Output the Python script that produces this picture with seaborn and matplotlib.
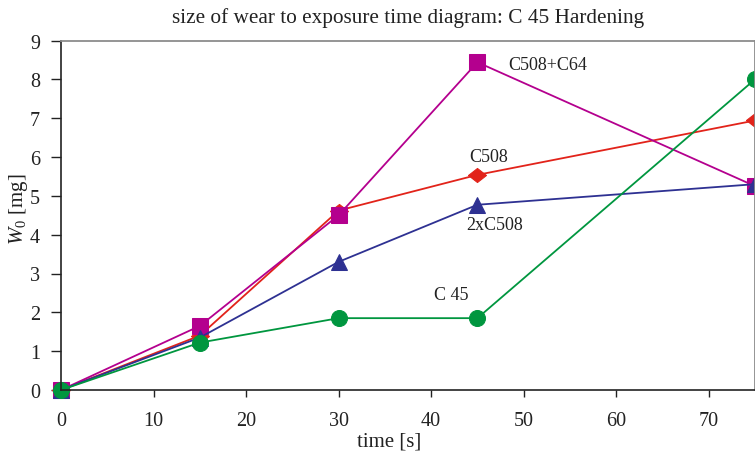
import numpy as np
import pandas as pd
import matplotlib
matplotlib.use('Agg')
import matplotlib.pyplot as plt
import seaborn as sns

# ── DATA ──
time_s = [0, 15, 30, 45, 75]
wear_c508 = [0, 1.40, 4.62, 5.54, 6.94]
wear_c508c64 = [0, 1.65, 4.50, 8.44, 5.25]
wear_2xc508 = [0, 1.35, 3.30, 4.77, 5.30]
wear_c45 = [0, 1.22, 1.85, 1.85, 8.00]

series_names = ['C508', 'C508+C64', '2xC508', 'C 45']
label_pos = {'C508+C64': (48.3, 8.38), 'C508': (44.1, 6.0),
             '2xC508': (43.8, 4.25), 'C 45': (40.3, 2.47)}

C = {'C508': '#e2231a', 'C508+C64': '#b4008e', '2xC508': '#2e3192', 'C 45': '#00963f'}
wide_diamond = [(-1, 0), (0, 0.78), (1, 0), (0, -0.78), (-1, 0)]
MK = {'C508': (wide_diamond, 13), 'C508+C64': ('s', 12), '2xC508': ('^', 12), 'C 45': ('o', 11.5)}

df = pd.DataFrame({
    'time': time_s * 4,
    'wear': wear_c508 + wear_c508c64 + wear_2xc508 + wear_c45,
    'series': np.repeat(series_names, len(time_s)),
})

sns.set_style('ticks')
plt.rcParams['font.family'] = ['Liberation Serif', 'DejaVu Serif']
plt.rcParams['mathtext.fontset'] = 'custom'
plt.rcParams['mathtext.rm'] = 'Liberation Serif'
plt.rcParams['mathtext.it'] = 'Liberation Serif:italic'

fig = plt.figure(figsize=(7.55, 4.52), dpi=100)
ax = fig.add_axes([61/755, 1 - 391/452, 1 - 61/755, (391 - 41.5)/452])

for name in series_names:
    sub = df[df['series'] == name]
    m, ms = MK[name]
    sns.lineplot(data=sub, x='time', y='wear', ax=ax, color=C[name], marker=m,
                 markersize=ms, markeredgecolor=C[name], linewidth=1.3,
                 clip_on=False, legend=False)
    ax.text(*label_pos[name], name, fontsize=13, va='center', ha='left', color='#222')

ax.set_xlim(0, 75)
ax.set_ylim(0, 9)
ax.set_xticks(range(0, 71, 10))
ax.set_yticks(range(0, 10))
ax.tick_params(axis='both', labelsize=14.5, direction='out', width=1, colors='#222')
ax.tick_params(axis='x', length=5, pad=10)
ax.tick_params(axis='y', length=7, pad=8)
ax.set_xlabel('time [s]', fontsize=15, color='#222')
ax.xaxis.set_label_coords(0.473, -0.145)
ax.xaxis.label.set_verticalalignment('center')
ax.set_ylabel(r'$W_0$ [mg]', fontsize=15, color='#222')
ax.yaxis.set_label_coords(-0.061, 0.52)
ax.yaxis.label.set_verticalalignment('center')
ax.set_title('size of wear to exposure time diagram: C 45 Hardening',
             fontsize=15.3, pad=13, color='#222')

for s in ['top', 'right']:
    ax.spines[s].set_color('#8c8c8c')
    ax.spines[s].set_linewidth(1.3)
for s in ['left', 'bottom']:
    ax.spines[s].set_color('#222')
    ax.spines[s].set_linewidth(1.2)

fig.savefig('out.png', dpi=100, facecolor='white')
